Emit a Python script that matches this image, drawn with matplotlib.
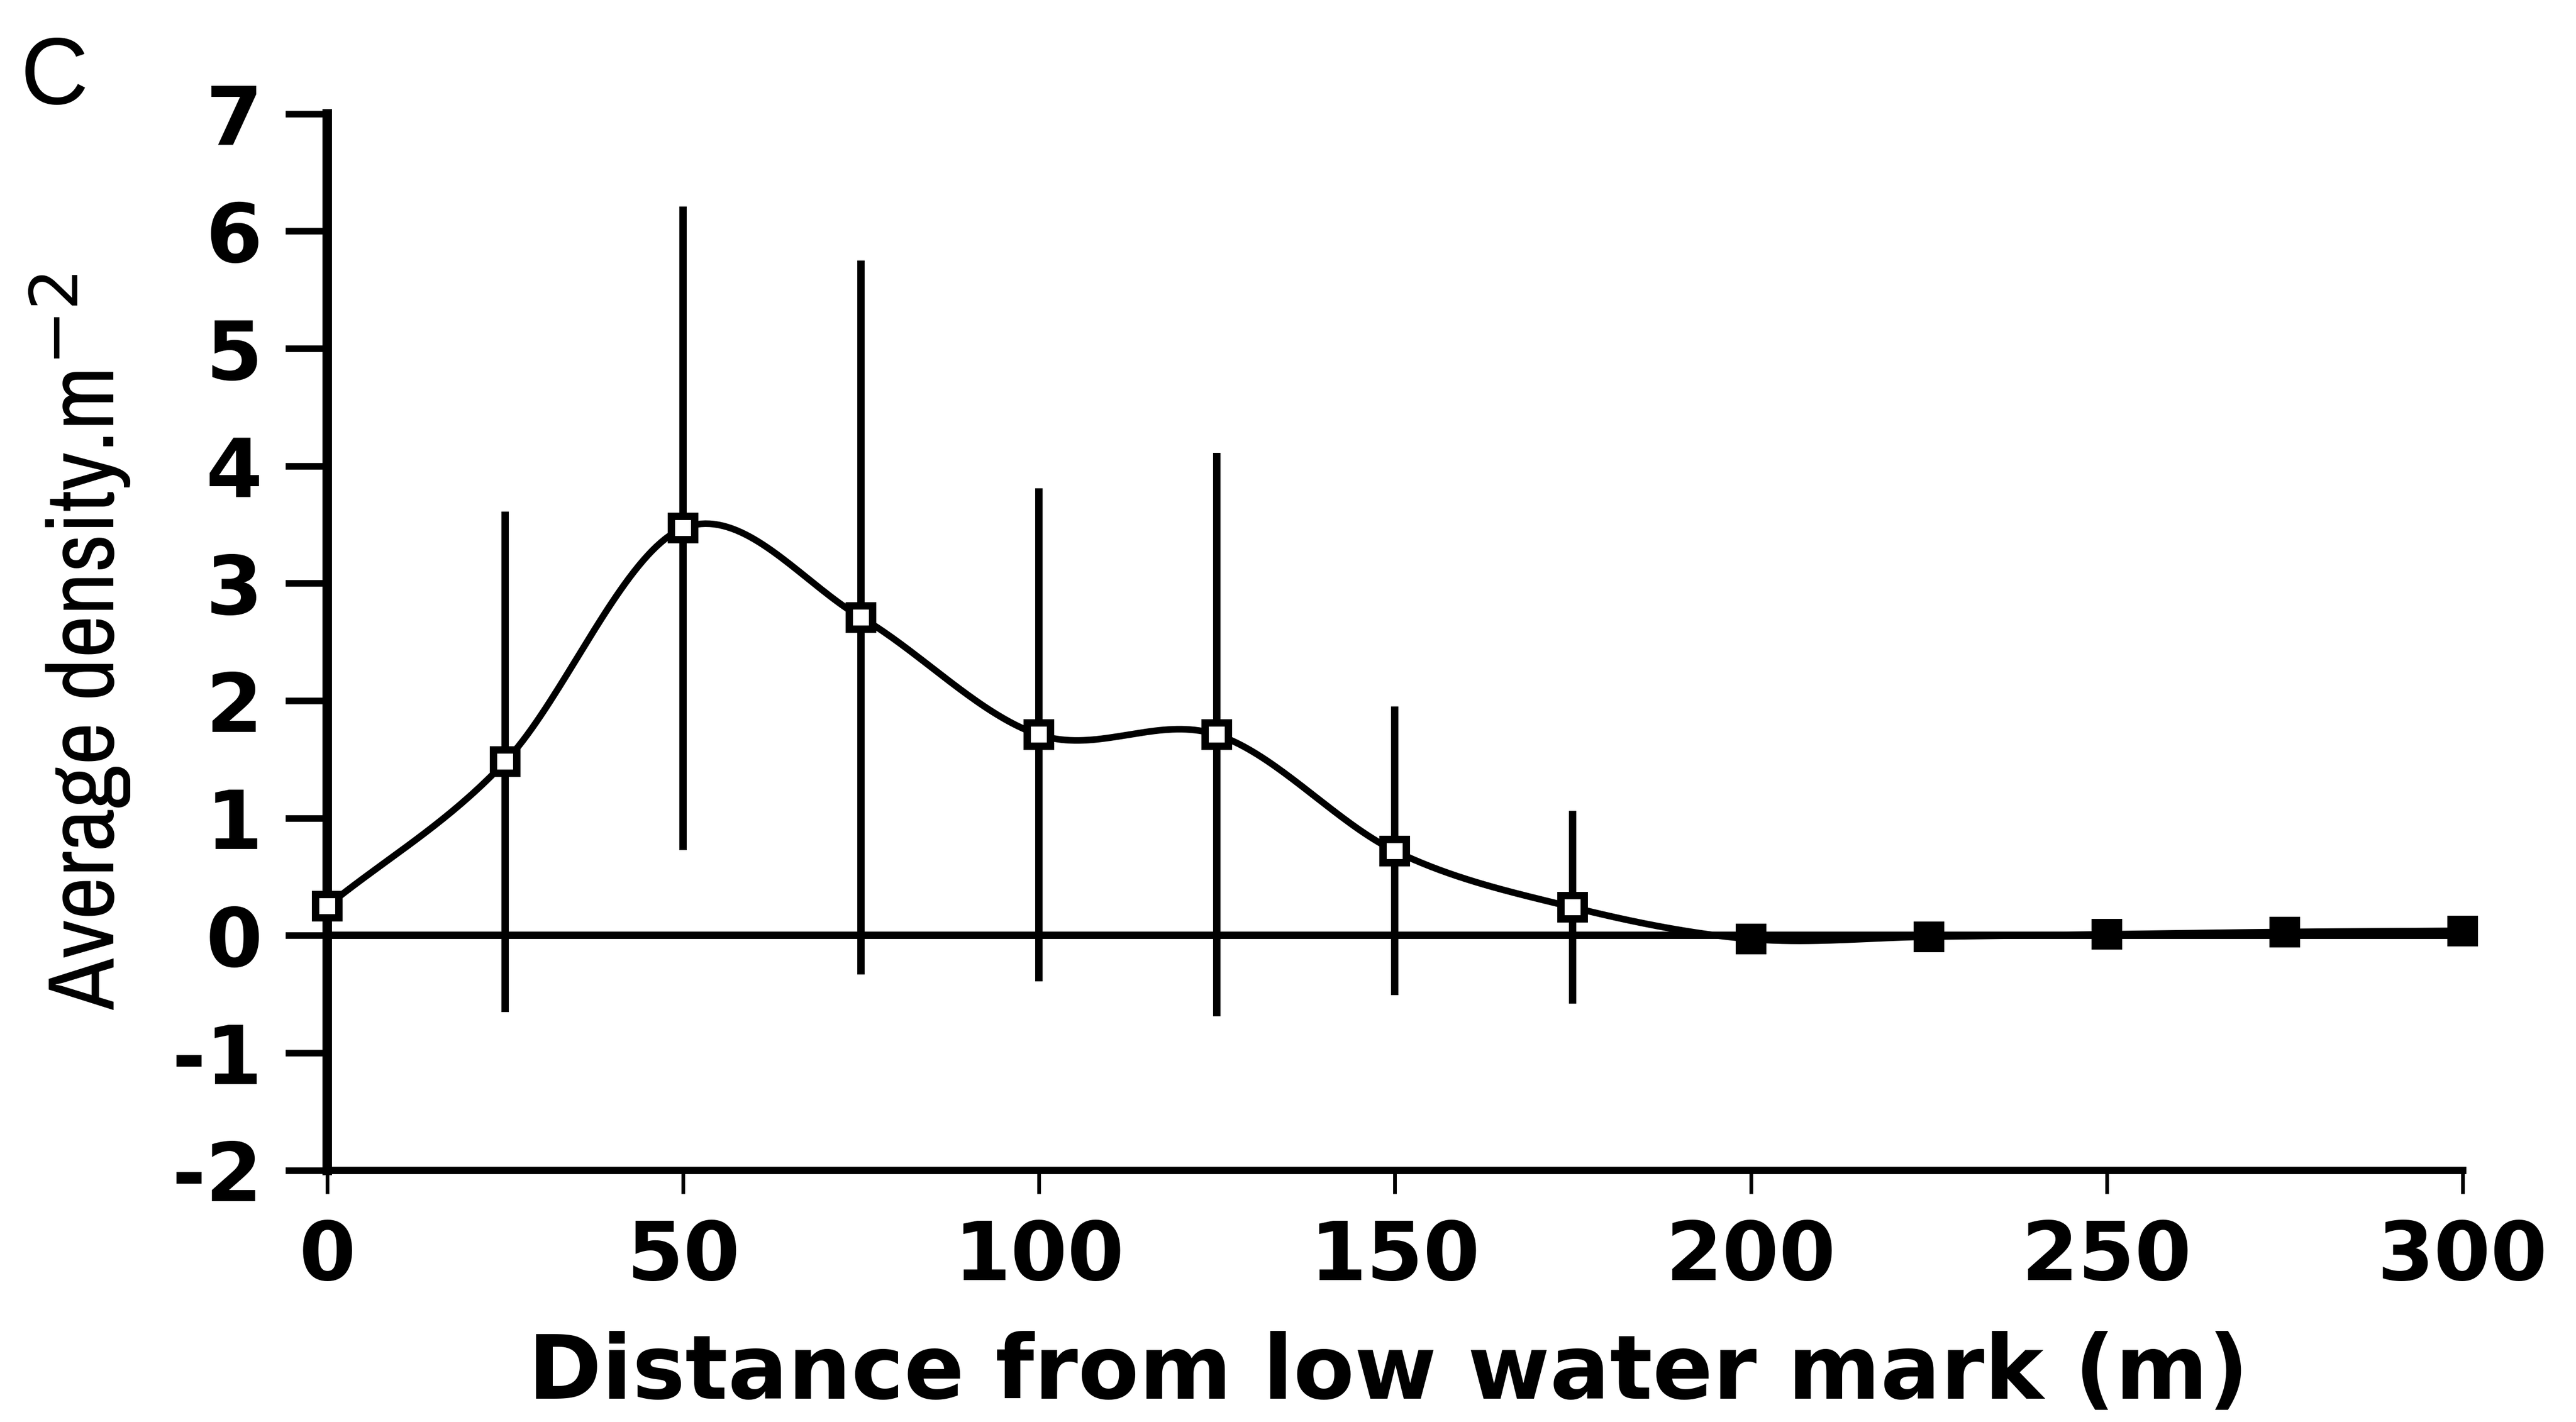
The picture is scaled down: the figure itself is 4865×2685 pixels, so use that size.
import os
import numpy as np
import matplotlib.pyplot as plt
from matplotlib import font_manager as fm

# distance from low water mark (m) and average density per m^2 with error bars
distance = [0, 25, 50, 75, 100, 125, 150, 175, 200, 225, 250, 275, 300]
density = [0.25, 1.48, 3.47, 2.71, 1.71, 1.71, 0.72, 0.24, -0.03, -0.01, 0.01, 0.03, 0.04]
error = [0, 2.13, 2.74, 3.04, 2.10, 2.40, 1.23, 0.82, 0, 0, 0, 0, 0]
y_ticks = [-2, -1, 0, 1, 2, 3, 4, 5, 6, 7]
x_ticks = [0, 50, 100, 150, 200, 250, 300]


def smooth(xs, ys, n=40):
    # catmull-rom spline through the points, like the old "smoothed line" option
    x = np.asarray(xs, float)
    y = np.asarray(ys, float)
    px = np.concatenate([[2 * x[0] - x[1]], x, [2 * x[-1] - x[-2]]])
    py = np.concatenate([[2 * y[0] - y[1]], y, [2 * y[-1] - y[-2]]])
    t = np.linspace(0, 1, n, endpoint=False)
    sx, sy = [], []
    for i in range(1, len(px) - 2):
        for p, out in ((px, sx), (py, sy)):
            p0, p1, p2, p3 = p[i - 1], p[i], p[i + 1], p[i + 2]
            out.extend(0.5 * (2 * p1 + (-p0 + p2) * t
                              + (2 * p0 - 5 * p1 + 4 * p2 - p3) * t ** 2
                              + (-p0 + 3 * p1 - 3 * p2 + p3) * t ** 3))
    sx.append(x[-1])
    sy.append(y[-1])
    return np.array(sx), np.array(sy)


# the y label is set in a very narrow face; use a condensed one if there is any
ylab_font, ylab_size = None, 112
for f in fm.fontManager.ttflist:
    base = os.path.basename(f.fname).lower()
    if ('condensed' in base or 'narrow' in base) and 'dejavu' not in base \
            and 'italic' not in base and f.weight in (400, 500, 'normal', 'medium'):
        ylab_font, ylab_size = fm.FontProperties(fname=f.fname), 128
        # superscript in the same narrow face
        plt.rcParams['mathtext.fontset'] = 'custom'
        plt.rcParams['mathtext.rm'] = f.name
        plt.rcParams['mathtext.it'] = f.name
        break
if ylab_font is None:
    ylab_font = fm.FontProperties(family=['Liberation Sans', 'DejaVu Sans'])
ylab_font.set_size(ylab_size)

fig = plt.figure(figsize=(48.65, 26.85), dpi=100)
ax = fig.add_axes([0.127, 0.177, 0.829, 0.743])

bold = dict(family='DejaVu Sans', weight='bold', size=111)

# error bars (no caps)
for xv, yv, ev in zip(distance, density, error):
    if ev > 0:
        ax.plot([xv, xv], [yv - ev, yv + ev], color='black', lw=10,
                solid_capstyle='butt', clip_on=False, zorder=2)

ax.axhline(0, color='black', lw=10, zorder=2)

sx, sy = smooth(distance, density)
ax.plot(sx, sy, color='black', lw=9, clip_on=False, zorder=3)

ax.plot(distance[:8], density[:8], 's', ms=31, mfc='white', mec='black',
        mew=10, clip_on=False, zorder=4)
ax.plot(distance[8:], density[8:], 's', ms=31, mfc='black', mec='black',
        mew=10, clip_on=False, zorder=4)

ax.set_xlim(0, 300)
ax.set_ylim(-2, 7)
ax.set_xticks(x_ticks)
ax.set_yticks(y_ticks)
ax.set_xticklabels([str(v) for v in x_ticks], fontdict=bold)
ax.set_yticklabels([str(v) for v in y_ticks], fontdict=bold)

for s in ['top', 'right']:
    ax.spines[s].set_visible(False)
ax.spines['left'].set_linewidth(13)
ax.spines['bottom'].set_linewidth(10)
ax.tick_params(axis='y', direction='out', length=57, width=9, pad=31)
ax.tick_params(axis='x', direction='out', length=32, width=5, pad=33)

ax.set_xlabel('Distance from low water mark (m)', family='DejaVu Sans',
              weight='bold', size=121)
ax.xaxis.set_label_coords(0.497, -0.152)

ax.set_ylabel(r'Average density.m$^{\mathrm{-2}}$', fontproperties=ylab_font)
# keep the centre of the letters where the reference has it (about 145 px in)
em = ylab_size * 100 / 72
anchor_px = 145 + 0.36 * em + 0.23 * em
ax.yaxis.set_label_coords((anchor_px - 618) / 4032, 0.5)

fig.text(0.008, 0.975, 'C', size=128, family='Liberation Sans', va='top', ha='left')

fig.savefig('out.png', dpi=100, facecolor='white')
